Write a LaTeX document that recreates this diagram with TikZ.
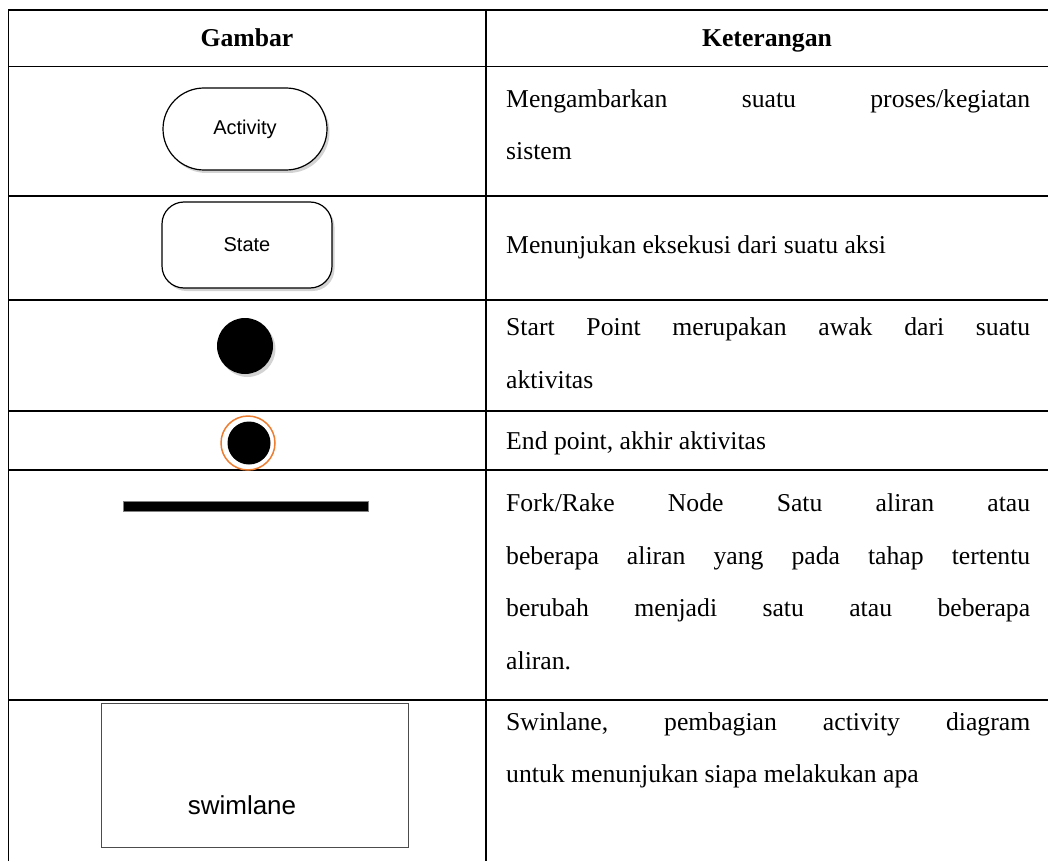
\documentclass[tikz,border=0pt]{standalone}
\usepackage{fontspec}
\setmainfont{Liberation Serif}
\newfontfamily\arialfont{Liberation Sans}
\usetikzlibrary{shadows}
\definecolor{endorange}{RGB}{237,125,49}
\newcommand{\jline}[1]{\makebox[524pt][s]{#1}}
\begin{document}
\begin{tikzpicture}[x=1pt,y=-1pt,
  grid/.style={line width=1.8pt},
  body/.style={font=\fontsize{25.7}{30}\selectfont, anchor=base west, inner sep=0pt},
  head/.style={font=\bfseries\fontsize{25.7}{30}\selectfont, anchor=base, inner sep=0pt},
  shp/.style={draw=black, line width=1.2pt, fill=white,
    drop shadow={shadow xshift=2.5pt, shadow yshift=-3pt, opacity=0.35}},
  lbl/.style={font=\arialfont\fontsize{20}{24}\selectfont, inner sep=0pt}]
\useasboundingbox (0,0) rectangle (1048,861);
% table grid
\draw[grid] (8.5,861) -- (8.5,10) -- (1048,10);
\draw[grid] (486,10) -- (486,861);
\foreach \yy in {66.5,196,300,411,470,700} \draw[grid] (8.5,\yy) -- (1048,\yy);
% headers
\node[head] (hg) at (247,47) {Gambar};
\node[head] (hk) at (767,47) {Keterangan};
% shapes
\node[shp, lbl, rounded corners=41pt, minimum width=164pt, minimum height=82pt] (act) at (245,129) {Activity};
\node[shp, lbl, rounded corners=22pt, minimum width=170pt, minimum height=86pt] (state) at (247,245) {State};
\node[circle, fill=black, minimum size=56pt, inner sep=0pt,
  drop shadow={shadow xshift=2.5pt, shadow yshift=-3pt, opacity=0.35}] (start) at (245,346) {};
\node[circle, draw=endorange, line width=1.5pt, minimum size=54pt, inner sep=0pt] (endring) at (248,443) {};
\node[circle, fill=black, minimum size=43pt, inner sep=0pt] (enddot) at (249,443) {};
\node[rectangle, fill=black, draw=gray, line width=0.6pt, minimum width=245pt, minimum height=10pt, inner sep=0pt] (fork) at (245.5,506) {};
\node[rectangle, draw=gray!60!black, line width=0.8pt, minimum width=307pt, minimum height=144pt, inner sep=0pt] (lane) at (254.5,775) {};
\node[lbl, font=\arialfont\fontsize{26}{30}\selectfont] (lanetxt) at (242,805) {swimlane};
% descriptions
\node[body] (d1a) at (506,108) {\jline{Mengambarkan suatu proses/kegiatan}};
\node[body] (d1b) at (506,160) {sistem};
\node[body] (d2a) at (506,253) {Menunjukan eksekusi dari suatu aksi};
\node[body] (d3a) at (506,335) {\jline{Start Point merupakan awak dari suatu}};
\node[body] (d3b) at (506,388) {aktivitas};
\node[body] (d4a) at (506,449) {End point, akhir aktivitas};
\node[body] (d5a) at (506,511) {\jline{Fork/Rake Node Satu aliran atau}};
\node[body] (d5b) at (506,564) {\jline{beberapa aliran yang pada tahap tertentu}};
\node[body] (d5c) at (506,616) {\jline{berubah menjadi satu atau beberapa}};
\node[body] (d5d) at (506,669) {aliran.};
\node[body] (d6a) at (506,730) {\jline{Swinlane, pembagian activity diagram}};
\node[body] (d6b) at (506,782) {untuk menunjukan siapa melakukan apa};
\end{tikzpicture}
\end{document}
